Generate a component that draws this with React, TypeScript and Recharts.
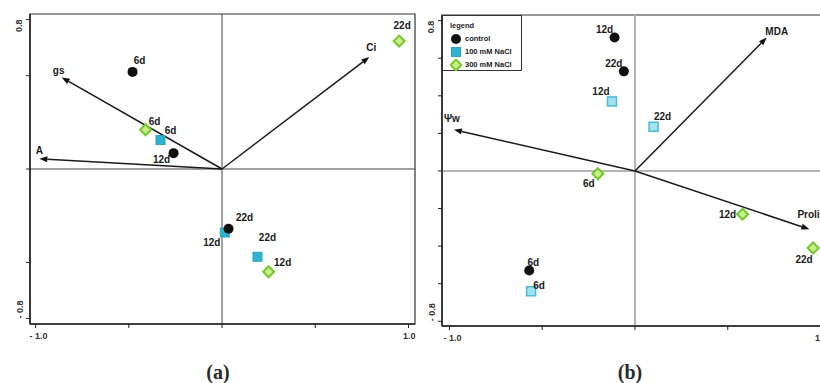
import React from "react";
import {
  ScatterChart,
  Scatter,
  XAxis,
  YAxis,
  ReferenceLine,
  ReferenceArea,
  Legend,
} from "recharts";

const days = ["6d", "12d", "22d"];

// (a) sample scores
const aControlX = [-0.48, -0.26, 0.035];
const aControlY = [0.52, 0.085, -0.32];
const aNacl100X = [-0.33, 0.015, 0.19];
const aNacl100Y = [0.155, -0.34, -0.47];
const aNacl300X = [-0.41, 0.25, 0.95];
const aNacl300Y = [0.21, -0.55, 0.685];

// (a) variable arrows
const aVars = ["gs", "A", "Ci"];
const aVarX = [-0.86, -0.98, 0.79];
const aVarY = [0.49, 0.055, 0.6];

// (b) sample scores
const bControlX = [-0.57, -0.11, -0.06];
const bControlY = [-0.53, 0.71, 0.53];
const bNacl100X = [-0.56, -0.124, 0.1];
const bNacl100Y = [-0.64, 0.37, 0.235];
const bNacl300X = [-0.2, 0.58, 0.96];
const bNacl300Y = [-0.015, -0.23, -0.41];

// (b) variable arrows
const bVars = ["Ψw", "MDA", "Proline"];
const bVarX = [-0.976, 0.71, 0.94];
const bVarY = [0.22, 0.71, -0.31];

const treatments = ["control", "100 mM NaCl", "300 mM NaCl"];

const FONT = "'Liberation Sans', Arial, sans-serif";

const toPoints = (xs: number[], ys: number[]) =>
  xs.map((x, i) => ({ x, y: ys[i], day: days[i] }));

// where each day label sits relative to its point (px)
const nudgeA: any = {
  control: { "6d": [7, -11], "12d": [-12, 6], "22d": [16, -11] },
  nacl100: { "6d": [10, -10], "12d": [-13, 10], "22d": [10, -19] },
  nacl300: { "6d": [9, -8], "12d": [14, -9], "22d": [3, -16] },
};
const nudgeB: any = {
  control: { "6d": [4, -8], "12d": [-10, -8], "22d": [-10, -8] },
  nacl100: { "6d": [8, -6], "12d": [-11, -10], "22d": [9, -10] },
  nacl300: { "6d": [-9, 10], "12d": [-15, 0], "22d": [-9, 11] },
};
const arrowLabelA = [
  [-3, -7, "middle"],
  [0, -8, "middle"],
  [2, -9, "middle"],
];
const arrowLabelB = [
  [-2, -11, "middle"],
  [10, -6, "middle"],
  [-12, -15, "start"],
];

function Marker({ kind, cx, cy, light }: any) {
  if (kind === "control") return <circle cx={cx} cy={cy} r={5} fill="#111" />;
  if (kind === "nacl100")
    return (
      <rect
        x={cx - 4.5}
        y={cy - 4.5}
        width={9}
        height={9}
        fill={light ? "#a6e2ee" : "#2fb2cf"}
        stroke={light ? "#47bcd6" : "#2aa4c0"}
        strokeWidth={light ? 1.5 : 1}
      />
    );
  return (
    <polygon
      points={`${cx},${cy - 5.5} ${cx + 5.5},${cy} ${cx},${cy + 5.5} ${cx - 5.5},${cy}`}
      fill="#c8ee8a"
      stroke="#76c82e"
      strokeWidth={2}
    />
  );
}

const pointShape = (kind: string, nudge: any, light: boolean) => (props: any) => {
  const { cx, cy, payload } = props;
  const [dx, dy] = nudge[kind][payload.day];
  return (
    <g>
      <Marker kind={kind} cx={cx} cy={cy} light={light} />
      <text
        x={cx + dx}
        y={cy + dy + 3.5}
        textAnchor="middle"
        fontFamily={FONT}
        fontSize={10}
        fontWeight="bold"
        fill="#1a1a1a"
      >
        {payload.day}
      </text>
    </g>
  );
};

const arrowShape = (label: string, cfg: any[]) => (props: any) => {
  const { x1, y1, x2, y2 } = props;
  const ang = Math.atan2(y2 - y1, x2 - x1);
  const L = 8;
  const W = 3;
  const bx = x2 - L * Math.cos(ang);
  const by = y2 - L * Math.sin(ang);
  const p1 = [bx + W * Math.sin(ang), by - W * Math.cos(ang)];
  const p2 = [bx - W * Math.sin(ang), by + W * Math.cos(ang)];
  return (
    <g>
      <line x1={x1} y1={y1} x2={bx} y2={by} stroke="#1a1a1a" strokeWidth={1.5} />
      <polygon points={`${x2},${y2} ${p1[0]},${p1[1]} ${p2[0]},${p2[1]}`} fill="#111" />
      <text
        x={x2 + cfg[0]}
        y={y2 + cfg[1] + 3.5}
        textAnchor={cfg[2]}
        fontFamily={FONT}
        fontSize={10}
        fontWeight="bold"
        fill="#1a1a1a"
      >
        {label}
      </text>
    </g>
  );
};

const XTick = (props: any) => {
  const { x, y, payload } = props;
  if (payload.value === -1)
    return (
      <text x={x - 6} y={y + 9} textAnchor="start" fontFamily={FONT} fontSize={9} fontWeight="bold" fill="#333">
        - 1.0
      </text>
    );
  if (payload.value === 1)
    return (
      <text x={x + 7} y={y + 9} textAnchor="end" fontFamily={FONT} fontSize={9} fontWeight="bold" fill="#333">
        1.0
      </text>
    );
  return null;
};

const YTick = (props: any) => {
  const { x, y, payload } = props;
  if (Math.abs(payload.value) !== 0.8) return null;
  const top = payload.value > 0;
  return (
    <text
      x={x - 1}
      y={y + (top ? -1 : 0)}
      transform={`rotate(-90 ${x - 1} ${y})`}
      textAnchor={top ? "end" : "start"}
      fontFamily={FONT}
      fontSize={9}
      fontWeight="bold"
      fill="#333"
    >
      {top ? "0.8" : "- 0.8"}
    </text>
  );
};

const legendContent = () => (
  <div
    style={{
      width: 80,
      height: 56,
      border: "1.5px solid #333",
      background: "#fff",
      boxSizing: "border-box",
      padding: "3px 0 0 7px",
      fontFamily: FONT,
      fontSize: 7.5,
      fontWeight: "bold",
      lineHeight: "13px",
      color: "#222",
    }}
  >
    <div>legend</div>
    {["control", "nacl100", "nacl300"].map((k, i) => (
      <div key={k} style={{ display: "flex", alignItems: "center", height: 13 }}>
        <svg width={12} height={12}>
          <Marker kind={k} cx={6} cy={6} light={false} />
        </svg>
        <span style={{ marginLeft: 3 }}>{treatments[i]}</span>
      </div>
    ))}
  </div>
);

function Biplot(props: any) {
  const {
    width, height, marginTop, yAxisWidth, xDomain, yDomain, yTicks,
    series, vars, varX, varY, arrowCfg, nudge, light, crossStroke, crossWidth, legend,
  } = props;
  return (
    <ScatterChart
      width={width}
      height={height}
      margin={{ top: marginTop, right: 5, bottom: 0, left: 0 }}
    >
      <XAxis
        type="number"
        dataKey="x"
        domain={xDomain}
        allowDataOverflow
        ticks={[-1, -0.5, 0, 0.5, 1]}
        tick={<XTick />}
        tickSize={4}
        height={21}
        axisLine={{ stroke: "#222", strokeWidth: 1.5 }}
        tickLine={{ stroke: "#222" }}
      />
      <YAxis
        type="number"
        dataKey="y"
        domain={yDomain}
        allowDataOverflow
        ticks={yTicks}
        tick={<YTick />}
        tickSize={4}
        width={yAxisWidth}
        axisLine={{ stroke: "#222", strokeWidth: 1.5 }}
        tickLine={{ stroke: "#222" }}
      />
      <ReferenceArea
        x1={xDomain[0]}
        x2={xDomain[1]}
        y1={yDomain[0]}
        y2={yDomain[1]}
        fill="none"
        fillOpacity={0}
        stroke="#333"
        strokeWidth={1.2}
      />
      <ReferenceLine x={0} stroke={crossStroke} strokeWidth={crossWidth} />
      <ReferenceLine y={0} stroke={crossStroke} strokeWidth={crossWidth} />
      {vars.map((v: string, i: number) => (
        <ReferenceLine
          key={v}
          segment={[{ x: 0, y: 0 }, { x: varX[i], y: varY[i] }]}
          shape={arrowShape(v, arrowCfg[i])}
        />
      ))}
      <Scatter
        name={treatments[1]}
        data={series.nacl100}
        shape={pointShape("nacl100", nudge, light)}
        isAnimationActive={false}
      />
      <Scatter
        name={treatments[2]}
        data={series.nacl300}
        shape={pointShape("nacl300", nudge, light)}
        isAnimationActive={false}
      />
      <Scatter
        name={treatments[0]}
        data={series.control}
        shape={pointShape("control", nudge, light)}
        isAnimationActive={false}
      />
      {legend && (
        <Legend
          layout="vertical"
          align="center"
          verticalAlign="middle"
          content={legendContent}
          wrapperStyle={{ left: yAxisWidth, top: marginTop, width: "auto", height: "auto" }}
        />
      )}
    </ScatterChart>
  );
}

export default function App() {
  const captionStyle: React.CSSProperties = {
    position: "absolute",
    top: 362,
    width: 100,
    textAlign: "center",
    fontFamily: "'Liberation Serif', 'DejaVu Serif', serif",
    fontSize: 20,
    lineHeight: "20px",
    fontWeight: "bold",
    color: "#2a2a2a",
  };
  return (
    <div
      style={{
        position: "absolute",
        left: 0,
        top: 0,
        width: 820,
        height: 383,
        overflow: "hidden",
        background: "#fff",
      }}
    >
      <div style={{ position: "absolute", left: 0, top: 0 }}>
        <Biplot
          width={420}
          height={345}
          marginTop={14}
          yAxisWidth={30}
          xDomain={[-1.03, 1.035]}
          yDomain={[-0.83, 0.83]}
          yTicks={[-0.8, -0.5, 0, 0.5, 0.8]}
          series={{
            control: toPoints(aControlX, aControlY),
            nacl100: toPoints(aNacl100X, aNacl100Y),
            nacl300: toPoints(aNacl300X, aNacl300Y),
          }}
          vars={aVars}
          varX={aVarX}
          varY={aVarY}
          arrowCfg={arrowLabelA}
          nudge={nudgeA}
          light={false}
          crossStroke="#444"
          crossWidth={1}
          legend={false}
        />
      </div>
      <div style={{ position: "absolute", left: 410, top: 0 }}>
        <Biplot
          width={420}
          height={347}
          marginTop={15}
          yAxisWidth={32}
          xDomain={[-1.04, 1.024]}
          yDomain={[-0.825, 0.83]}
          yTicks={[-0.8, -0.6, -0.4, -0.2, 0, 0.2, 0.4, 0.6, 0.8]}
          series={{
            control: toPoints(bControlX, bControlY),
            nacl100: toPoints(bNacl100X, bNacl100Y),
            nacl300: toPoints(bNacl300X, bNacl300Y),
          }}
          vars={bVars}
          varX={bVarX}
          varY={bVarY}
          arrowCfg={arrowLabelB}
          nudge={nudgeB}
          light={true}
          crossStroke="#b4b4b4"
          crossWidth={2}
          legend={true}
        />
      </div>
      <div style={{ ...captionStyle, left: 168 }}>(a)</div>
      <div style={{ ...captionStyle, left: 580 }}>(b)</div>
    </div>
  );
}
